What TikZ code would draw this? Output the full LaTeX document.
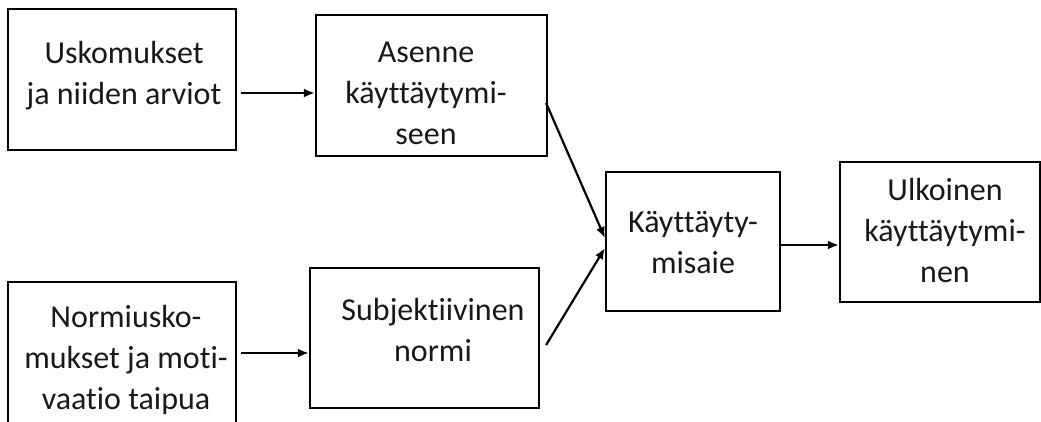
\documentclass[tikz,border=0pt]{standalone}
\usepackage{fontspec}
\setmainfont[Ligatures=NoCommon]{Carlito}
\usetikzlibrary{arrows.meta}
\tikzset{
  box/.style={draw=black, line width=2.2pt, rectangle, inner sep=0pt},
  txt/.style={inner sep=0pt, anchor=base, font=\fontsize{32}{41}\selectfont, text=black!90},
  arr/.style={line width=2.2pt, -{Latex[length=11pt,width=9pt]}}
}
\newcommand{\lines}[1]{\begin{tabular}[t]{@{}c@{}}#1\end{tabular}}
\begin{document}
\begin{tikzpicture}[x=1pt,y=-1pt]
\useasboundingbox (0,0) rectangle (1041,421);
% boxes
\node[box, minimum width=228pt, minimum height=141pt] (b1) at (122,79.5) {};
\node[box, minimum width=231pt, minimum height=141pt] (b2) at (431.5,85.5) {};
\node[box, minimum width=228pt, minimum height=150pt] (b3) at (122,357) {};
\node[box, minimum width=229pt, minimum height=140pt] (b4) at (424.5,338) {};
\node[box, minimum width=174pt, minimum height=139pt] (b5) at (693,241.5) {};
\node[box, minimum width=200pt, minimum height=140pt] (b6) at (940,232) {};
% texts
\node[txt] (t1) at (124,63) {\lines{Uskomukset\\ja niiden arviot}};
\node[txt] (t2) at (426,62) {\lines{Asenne\\käyttäytymi-\\seen}};
\node[txt] (t3) at (126,327) {\lines{Normiusko-\\mukset ja moti-\\vaatio taipua}};
\node[txt] (t4) at (433,320) {\lines{Subjektiivinen\\normi}};
\node[txt] (t5) at (693,232) {\lines{Käyttäyty-\\misaie}};
\node[txt] (t6) at (945,200) {\lines{Ulkoinen\\käyttäytymi-\\nen}};
% connectors
\draw[arr] ([xshift=4pt,yshift=-13.5pt]b1.east) -- ([yshift=-7.5pt]b2.west);
\draw[arr] ([xshift=4pt,yshift=4pt]b3.east) -- ([yshift=-15pt]b4.west);
\draw[arr] ([xshift=-2pt,yshift=-17.5pt]b2.east) -- ([yshift=3.5pt]b5.west);
\draw[arr] ([xshift=6pt,yshift=-7pt]b4.east) -- ([yshift=-6.5pt]b5.west);
\draw[arr] ([yshift=-3.5pt]b5.east) -- ([yshift=-13pt]b6.west);
\end{tikzpicture}
\end{document}
